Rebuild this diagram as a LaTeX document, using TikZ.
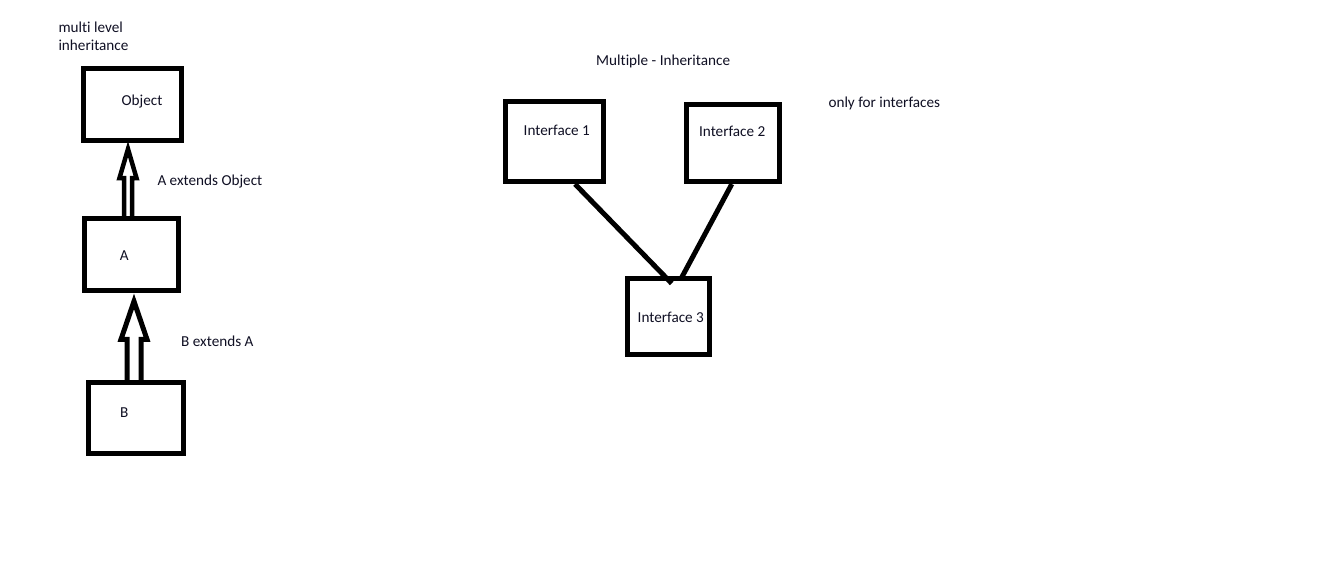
\documentclass[tikz,border=0pt]{standalone}
\usepackage{fontspec}
\setmainfont{Carlito}[Ligatures=CommonOff]
\usetikzlibrary{calc}
\definecolor{ink}{RGB}{15,15,35}
\begin{document}
\begin{tikzpicture}[x=1pt, y=-1pt,
   every node/.style={font=\fontsize{15.2}{18}\selectfont, text=ink},
   box/.style={draw, line width=5pt, inner sep=0pt},
   note/.style={anchor=base west, inner sep=0pt, align=left},
   hollow/.style={line join=miter},
   link/.style={line width=5pt}]
\useasboundingbox (0,0) rectangle (1330,574);
% multi level inheritance
\node[note] (title1) at (58.3,50.7) {multi level\\inheritance};
\node[box, minimum width=98pt, minimum height=72pt,
  label={[xshift=9.5pt, yshift=3pt]center:Object}] (obj) at (132.5,104.5) {};
\node[box, minimum width=94.3pt, minimum height=72.3pt,
  label={[xshift=-7pt, yshift=-1.3pt]center:A}] (A) at (131.3,254.7) {};
\node[box, minimum width=94.7pt, minimum height=71pt,
  label={[xshift=-11.5pt, yshift=5.2pt]center:B}] (B) at (135.8,418) {};
\node[note] (extobj) at (157.3,185) {A extends Object};
\node[note] (extA) at (181,346) {B extends A};
\draw[hollow, line width=4.5pt] let \p1=($(A.north)+(-3.3,0)$), \p2=($(obj.south)+(0,6)$) in
  (\x1-4pt,\y1) -- (\x1-4pt,\y2-29pt) -- (\x1-8.5pt,\y2-29pt) -- (\x1,\y2)
  -- (\x1+8.5pt,\y2-29pt) -- (\x1+4pt,\y2-29pt) -- (\x1+4pt,\y1);
\draw[hollow, line width=5pt] let \p1=($(B.north)+(-1.8,0)$), \p2=($(A.south)+(0,8)$) in
  (\x1-7pt,\y1) -- (\x1-7pt,\y2-38pt) -- (\x1-13pt,\y2-38pt) -- (\x1,\y2)
  -- (\x1+13pt,\y2-38pt) -- (\x1+7pt,\y2-38pt) -- (\x1+7pt,\y1);
% multiple inheritance
\node[note] (title2) at (596,65) {Multiple - Inheritance};
\node[note] (only) at (828.3,107.7) {only for interfaces};
\node[box, minimum width=97.4pt, minimum height=79.7pt,
  label={[xshift=2.3pt, yshift=11.4pt]center:Interface 1}] (i1) at (554.5,141.7) {};
\node[box, minimum width=92.7pt, minimum height=76.7pt,
  label={[xshift=-0.6pt, yshift=11.9pt]center:Interface 2}] (i2) at (732.8,143.2) {};
\node[box, minimum width=82.3pt, minimum height=75.7pt,
  label={[xshift=2.1pt, yshift=-1pt]center:Interface 3}] (i3) at (668.7,316.3) {};
\draw[link] ($(i1.south)+(20.5,0)$) -- ($(i3.north)+(3,7.5)$);
\draw[link] ($(i2.south)+(-1,0)$) -- ($(i3.north)+(13,1.5)$);
\end{tikzpicture}
\end{document}
